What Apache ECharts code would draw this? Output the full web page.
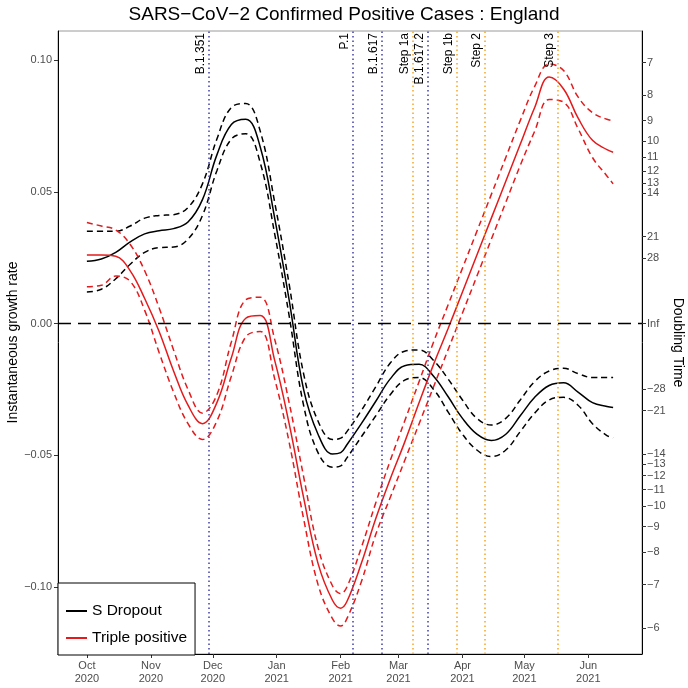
<!DOCTYPE html>
<html>
<head>
<meta charset="utf-8">
<title>SARS-CoV-2 growth rate</title>
<script src="https://cdn.jsdelivr.net/npm/echarts@6/dist/echarts.min.js"></script>
<style>
  html, body { margin: 0; padding: 0; background: #fff; }
  #container { width: 688px; height: 688px; }
</style>
</head>
<body>
<div id="container"></div>
<script>
// weekly readings (plus the trough on 1 Feb)
var dates = ['2020-10-01', '2020-10-08', '2020-10-15', '2020-10-22', '2020-10-29',
	'2020-11-05', '2020-11-12', '2020-11-19', '2020-11-26', '2020-12-03', '2020-12-10',
	'2020-12-17', '2020-12-24', '2020-12-31', '2021-01-07', '2021-01-14', '2021-01-21',
	'2021-01-28', '2021-02-01', '2021-02-04', '2021-02-11', '2021-02-18', '2021-02-25', '2021-03-04',
	'2021-03-11', '2021-03-18', '2021-03-25', '2021-04-01', '2021-04-08', '2021-04-15',
	'2021-04-22', '2021-04-29', '2021-05-06', '2021-05-13', '2021-05-20', '2021-05-27',
	'2021-06-03', '2021-06-10', '2021-06-13'];

var sDropout = [0.0236, 0.0245, 0.027, 0.031, 0.034, 0.0352, 0.036, 0.0385, 0.047, 0.064,
	0.0755, 0.0775, 0.067, 0.040, 0.009, -0.025, -0.042, -0.0495, -0.049, -0.046, -0.038, -0.0295,
	-0.021, -0.016, -0.0155, -0.020, -0.0277, -0.036, -0.042, -0.0444, -0.042, -0.035,
	-0.028, -0.0235, -0.0225, -0.026, -0.030, -0.0315, -0.0319];
var sDropoutUpper = [0.035, 0.035, 0.035, 0.037, 0.040, 0.041, 0.0413, 0.044, 0.053, 0.070,
	0.082, 0.0835, 0.073, 0.046, 0.015, -0.019, -0.037, -0.044, -0.0435, -0.041, -0.033, -0.024,
	-0.015, -0.0105, -0.010, -0.014, -0.021, -0.029, -0.036, -0.0385, -0.036, -0.029,
	-0.022, -0.018, -0.017, -0.019, -0.0205, -0.0205, -0.0205];
var sDropoutLower = [0.012, 0.013, 0.017, 0.0225, 0.027, 0.0288, 0.029, 0.032, 0.041, 0.058,
	0.070, 0.072, 0.061, 0.034, 0.003, -0.031, -0.049, -0.0545, -0.054, -0.051, -0.043, -0.035,
	-0.027, -0.0215, -0.0205, -0.025, -0.0335, -0.042, -0.048, -0.0505, -0.048, -0.041,
	-0.034, -0.029, -0.028, -0.031, -0.038, -0.0425, -0.0433];

var triplePos = [0.026, 0.026, 0.0255, 0.020, 0.0095, -0.003, -0.018, -0.031, -0.038, -0.030,
	-0.013, 0.002, 0.003, -0.014, -0.038, -0.066, -0.091, -0.105, -0.108, -0.1055, -0.091, -0.074,
	-0.059, -0.045, -0.030, -0.0155, -0.002, 0.012, 0.026, 0.040, 0.054, 0.068,
	0.082, 0.0935, 0.089, 0.078, 0.0695, 0.066, 0.065];
var triplePosUpper = [0.0383, 0.037, 0.0355, 0.030, 0.020, 0.006, -0.010, -0.025, -0.034, -0.027,
	-0.007, 0.009, 0.010, -0.006, -0.030, -0.058, -0.085, -0.0995, -0.1025, -0.100, -0.085, -0.068,
	-0.052, -0.037, -0.022, -0.007, 0.007, 0.021, 0.035, 0.049, 0.063, 0.077,
	0.090, 0.0985, 0.096, 0.086, 0.080, 0.0775, 0.077];
var triplePosLower = [0.014, 0.0145, 0.018, 0.016, 0.005, -0.011, -0.026, -0.038, -0.044, -0.037,
	-0.020, -0.005, -0.003, -0.021, -0.045, -0.074, -0.099, -0.112, -0.1148, -0.112, -0.098, -0.080,
	-0.066, -0.052, -0.038, -0.024, -0.010, 0.004, 0.018, 0.032, 0.046, 0.060,
	0.073, 0.085, 0.084, 0.074, 0.063, 0.056, 0.053];

var variantNames = ['B.1.351', 'P.1', 'B.1.617', 'B.1.617.2'];
var variantDates = ['2020-11-29', '2021-02-07', '2021-02-21', '2021-03-15'];
var stepNames = ['Step 1a', 'Step 1b', 'Step 2', 'Step 3'];
var stepDates = ['2021-03-08', '2021-03-29', '2021-04-12', '2021-05-17'];

var monthTicks = ['2020-10-01', '2020-11-01', '2020-12-01', '2021-01-01', '2021-02-01',
	'2021-03-01', '2021-04-01', '2021-05-01', '2021-06-01'];
var growthTicks = [-0.10, -0.05, 0.00, 0.05, 0.10];
var doublingTimes = [7, 8, 9, 10, 11, 12, 13, 14, 21, 28, Infinity,
	-28, -21, -14, -13, -12, -11, -10, -9, -8, -7, -6];

var monthNames = ['Jan', 'Feb', 'Mar', 'Apr', 'May', 'Jun', 'Jul', 'Aug', 'Sep', 'Oct', 'Nov', 'Dec'];
var font = 'Liberation Sans';

function ts(d) {
	return Date.parse(d + 'T00:00:00Z');
}

function toPairs(vals) {
	var arr = [];
	for (var i = 0; i < dates.length; i++) {
		arr.push([ts(dates[i]), vals[i]]);
	}
	return arr;
}

function curve(name, vals, color, dashed) {
	return {
		name: name,
		type: 'line',
		data: toPairs(vals),
		symbol: 'none',
		smooth: 0.4,
		z: 3,
		lineStyle: {color: color, width: 1.5, type: dashed ? [6, 4] : 'solid'},
		itemStyle: {color: color}
	};
}

function eventLines() {
	var arr = [];
	var i;
	for (i = 0; i < variantNames.length; i++) {
		arr.push({name: variantNames[i], xAxis: ts(variantDates[i]),
			lineStyle: {color: '#3f3fa6'}});
	}
	for (i = 0; i < stepNames.length; i++) {
		arr.push({name: stepNames[i], xAxis: ts(stepDates[i]),
			lineStyle: {color: '#f5a623'}});
	}
	return arr;
}

function monthLabel(v) {
	var d = new Date(v);
	return monthNames[d.getUTCMonth()] + '\n' + d.getUTCFullYear();
}

function minus(s) {
	return String(s).replace('-', '\u2212');
}

var chart = echarts.init(document.getElementById('container'), null, {renderer: 'canvas'});

var option = {
	animation: false,
	backgroundColor: '#fff',
	title: {
		text: 'SARS\u2212CoV\u22122 Confirmed Positive Cases : England',
		left: 'center',
		top: 0,
		textStyle: {fontFamily: font, fontSize: 19, fontWeight: 'normal', color: '#000'}
	},
	grid: {left: 58, right: 46, top: 31, bottom: 34, show: true, borderColor: '#9a9a9a', borderWidth: 1,
		outerBoundsMode: 'none', containLabel: false},
	legend: {
		data: [{name: 'S Dropout', icon: 'rect'}, {name: 'Triple positive', icon: 'rect'}],
		orient: 'vertical',
		left: 58,
		top: 583,
		padding: [20, 8, 9, 8],
		itemWidth: 21,
		itemHeight: 2,
		itemGap: 11,
		itemTextGap: 8,
		backgroundColor: '#fff',
		borderColor: '#000',
		borderWidth: 1,
		textStyle: {fontFamily: font, fontSize: 15.5, color: '#000'}
	},
	xAxis: {
		type: 'value',
		min: ts('2020-09-17'),
		max: ts('2021-06-27'),
		splitLine: {show: false},
		axisLine: {show: true, onZero: false, lineStyle: {color: '#000', width: 1}},
		axisTick: {customValues: monthTicks.map(ts), length: 4, lineStyle: {color: '#333'}},
		axisLabel: {
			customValues: monthTicks.map(ts),
			formatter: monthLabel,
			fontFamily: font, fontSize: 11, color: '#4d4d4d', lineHeight: 13, margin: 5
		}
	},
	yAxis: [{
		type: 'value',
		min: -0.1254,
		max: 0.111,
		name: 'Instantaneous growth rate',
		nameLocation: 'middle',
		nameGap: 38,
		nameMoveOverlap: false,
		nameTextStyle: {fontFamily: font, fontSize: 14, color: '#000'},
		splitLine: {show: false},
		axisLine: {show: true, onZero: false, lineStyle: {color: '#000'}},
		axisTick: {show: true, customValues: growthTicks, length: 4, lineStyle: {color: '#333'}},
		axisLabel: {
			customValues: growthTicks,
			formatter: function(v) { return minus(v.toFixed(2)); },
			fontFamily: font, fontSize: 11, color: '#4d4d4d', margin: 6
		}
	}, {
		type: 'value',
		position: 'right',
		min: -0.1254,
		max: 0.111,
		name: 'Doubling Time',
		nameLocation: 'middle',
		nameRotate: -90,
		nameGap: 29,
		nameMoveOverlap: false,
		nameTextStyle: {fontFamily: font, fontSize: 14, color: '#000'},
		splitLine: {show: false},
		axisLine: {show: true, onZero: false, lineStyle: {color: '#000'}},
		axisTick: {show: true, customValues: doublingTimes.map(function(t) { return Math.LN2 / t; }),
			length: 4, lineStyle: {color: '#333'}},
		axisLabel: {
			customValues: doublingTimes.map(function(t) { return Math.LN2 / t; }),
			formatter: function(v) {
				if (Math.abs(v) < 1e-9) return 'Inf';
				return minus(Math.round(Math.LN2 / v));
			},
			fontFamily: font, fontSize: 11, color: '#4d4d4d', margin: 5
		}
	}],
	series: [
		{
			name: 'events',
			type: 'line',
			data: [],
			z: 1,
			markLine: {
				silent: true,
				symbol: ['none', 'none'],
				lineStyle: {type: [1.5, 3], width: 1.5},
				label: {
					show: true,
					position: 'insideEndTop',
					formatter: '{b}',
					distance: [2, 2],
					fontFamily: font,
					fontSize: 12,
					color: '#000'
				},
				data: eventLines()
			}
		},
		{
			name: 'zero',
			type: 'line',
			data: [],
			z: 2,
			markLine: {
				silent: true,
				symbol: ['none', 'none'],
				label: {show: false},
				lineStyle: {color: '#000', type: [13, 7], width: 1.4},
				data: [{yAxis: 0}]
			}
		},
		curve('S Dropout', sDropout, '#000', false),
		curve('S Dropout upper', sDropoutUpper, '#000', true),
		curve('S Dropout lower', sDropoutLower, '#000', true),
		curve('Triple positive', triplePos, '#e41a1c', false),
		curve('Triple positive upper', triplePosUpper, '#e41a1c', true),
		curve('Triple positive lower', triplePosLower, '#e41a1c', true)
	]
};

chart.setOption(option);
</script>
</body>
</html>
